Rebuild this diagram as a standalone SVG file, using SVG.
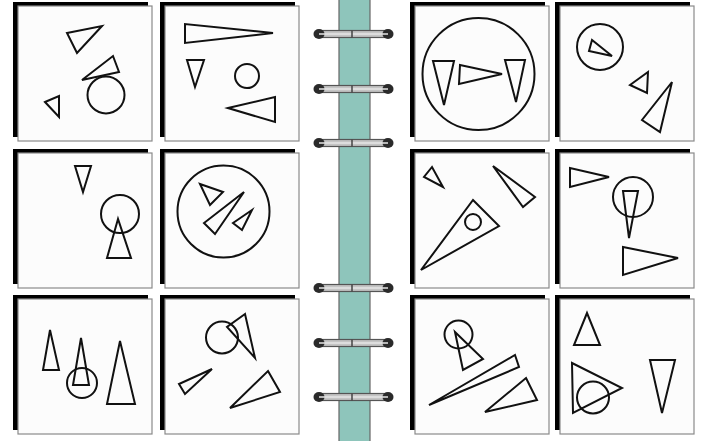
<svg xmlns="http://www.w3.org/2000/svg" width="705" height="441" viewBox="0 0 705 441">
<style>
.bk{fill:#000}
.pg{fill:#fcfcfc;stroke:#8a8a8a;stroke-width:1.2}
.s{fill:none;stroke:#111;stroke-width:2;stroke-linejoin:miter}
.bar{fill:#c4c4c4;stroke:#555;stroke-width:1.2}
.end{fill:#2a2a2a}
</style>
<defs>
<g id="card">
<rect class="bk" x="-5" y="-4" width="135" height="135"/>
<rect class="pg" x="0" y="0" width="134" height="135"/>
</g>
<g id="ring">
<rect class="bar" x="318" y="-3.5" width="71" height="7"/>
<ellipse class="end" cx="319" cy="0" rx="5.5" ry="5"/>
<ellipse class="end" cx="388" cy="0" rx="5.5" ry="5"/>
<line x1="319" y1="0" x2="388" y2="0" stroke="#e6e6e6" stroke-width="1.5"/>
<line x1="352" y1="-3.5" x2="352" y2="3.5" stroke="#444" stroke-width="1.5"/>
</g>
</defs>
<rect width="705" height="441" fill="#fff"/>
<g id="spine">
<rect x="339" y="-2" width="31" height="445" fill="#8ec5bb" stroke="#666" stroke-width="1.2"/>
</g>
<g id="card1">
<use href="#card" x="18" y="6"/>
<polygon class="s" points="67,33 102,26 77,53"/>
<polygon class="s" points="82,80 113,56 119,72"/>
<circle class="s" cx="106" cy="95" r="18.5"/>
<polygon class="s" points="45,102 59,96 59,117"/>
</g>
<g id="card2">
<use href="#card" x="165" y="6"/>
<polygon class="s" points="185,24 185,43 273,33"/>
<polygon class="s" points="187,60 204,60 195,87"/>
<circle class="s" cx="247" cy="76" r="12"/>
<polygon class="s" points="228,108 275,97 275,122"/>
</g>
<g id="card3">
<use href="#card" x="415" y="6"/>
<circle class="s" cx="478.5" cy="74" r="56"/>
<polygon class="s" points="433,61 454,61 444,105"/>
<polygon class="s" points="460,65 502,74 459,84"/>
<polygon class="s" points="505,60 525,60 516,102"/>
</g>
<g id="card4">
<use href="#card" x="560" y="6"/>
<circle class="s" cx="600" cy="47" r="23"/>
<polygon class="s" points="592,40 589,51 612,56"/>
<polygon class="s" points="630,85 648,72 647,93"/>
<polygon class="s" points="672,82 642,120 660,132"/>
</g>
<g id="card5">
<use href="#card" x="18" y="153"/>
<polygon class="s" points="75,166 91,166 83,192"/>
<circle class="s" cx="120" cy="214" r="19"/>
<polygon class="s" points="118,219 107,258 131,258"/>
</g>
<g id="card6">
<use href="#card" x="165" y="153"/>
<circle class="s" cx="223.5" cy="211.5" r="46"/>
<polygon class="s" points="200,184 223,192 210,205"/>
<polygon class="s" points="244,192 204,223 215,234"/>
<polygon class="s" points="252,210 233,223 242,230"/>
</g>
<g id="card7">
<use href="#card" x="415" y="153"/>
<polygon class="s" points="432,167 424,177 443,187"/>
<polygon class="s" points="493,166 535,197 523,207"/>
<polygon class="s" points="473,200 499,226 421,270"/>
<circle class="s" cx="473" cy="222" r="8"/>
</g>
<g id="card8">
<use href="#card" x="560" y="153"/>
<polygon class="s" points="570,168 570,187 609,177"/>
<circle class="s" cx="633" cy="197" r="20"/>
<polygon class="s" points="623,191 638,191 629,238"/>
<polygon class="s" points="623,247 623,275 678,258"/>
</g>
<g id="card9">
<use href="#card" x="18" y="299"/>
<polygon class="s" points="50,330 43,370 59,370"/>
<polygon class="s" points="81,338 73,385 89,385"/>
<circle class="s" cx="82" cy="383" r="15"/>
<polygon class="s" points="120,341 107,404 135,404"/>
</g>
<g id="card10">
<use href="#card" x="165" y="299"/>
<circle class="s" cx="222" cy="337.5" r="16"/>
<polygon class="s" points="245,314 227,327 255,358"/>
<polygon class="s" points="212,369 179,384 185,394"/>
<polygon class="s" points="268,371 280,392 230,408"/>
</g>
<g id="card11">
<use href="#card" x="415" y="299"/>
<circle class="s" cx="458.5" cy="334.5" r="14"/>
<polygon class="s" points="455,332 463,370 483,359"/>
<polygon class="s" points="515,355 519,367 429,405"/>
<polygon class="s" points="526,378 537,400 485,412"/>
</g>
<g id="card12">
<use href="#card" x="560" y="299"/>
<polygon class="s" points="587,313 574,345 600,345"/>
<polygon class="s" points="572,363 622,388 573,413"/>
<circle class="s" cx="593" cy="397.5" r="16"/>
<polygon class="s" points="650,360 675,360 662,413"/>
</g>
<g id="connectors">
<use href="#ring" y="34"/>
<use href="#ring" y="89"/>
<use href="#ring" y="143"/>
<use href="#ring" y="288"/>
<use href="#ring" y="343"/>
<use href="#ring" y="397"/>
</g>
</svg>
